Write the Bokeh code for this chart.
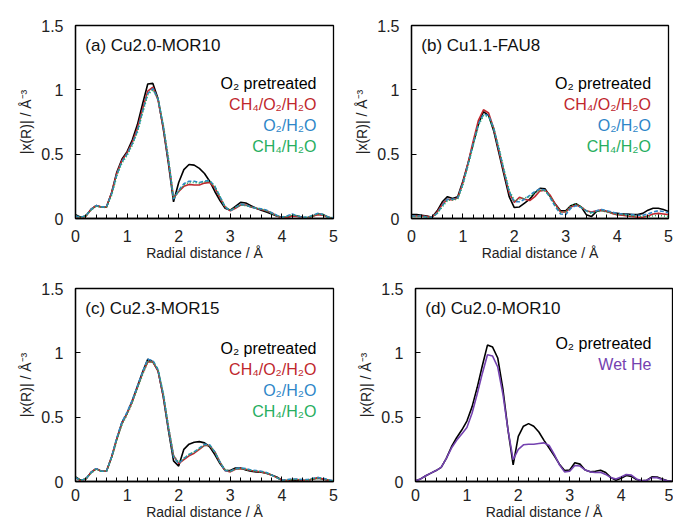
from bokeh.plotting import figure
from bokeh.layouts import column, row
from bokeh.models import Range1d, SingleIntervalTicker, NumeralTickFormatter, Label
from bokeh.embed import file_html
from bokeh.resources import INLINE

# Radial distance grid (Å)
R = [i / 10 for i in range(51)]

# (a) Cu2.0-MOR10
a_o2 = [0.03, 0.01, 0.02, 0.07, 0.10, 0.09, 0.09, 0.20, 0.36, 0.46,
        0.52, 0.61, 0.73, 0.89, 1.045, 1.05, 0.93, 0.70, 0.43, 0.13,
        0.28, 0.38, 0.42, 0.415, 0.39, 0.35, 0.29, 0.21, 0.14, 0.08,
        0.065, 0.095, 0.125, 0.12, 0.10, 0.08, 0.065, 0.05, 0.035, 0.02,
        0.01, 0.01, 0.02, 0.02, 0.01, 0.005, 0.02, 0.035, 0.03, 0.01, 0.0]
a_ch4o2h2o = [0.02, 0.0, 0.02, 0.07, 0.10, 0.09, 0.09, 0.20, 0.35, 0.45,
              0.51, 0.59, 0.70, 0.85, 0.99, 1.02, 0.92, 0.71, 0.45, 0.16,
              0.21, 0.25, 0.265, 0.26, 0.26, 0.275, 0.28, 0.24, 0.16, 0.09,
              0.06, 0.08, 0.105, 0.105, 0.09, 0.08, 0.07, 0.06, 0.045, 0.02,
              0.005, 0.01, 0.02, 0.015, 0.005, 0.005, 0.02, 0.03, 0.025, 0.01, 0.0]
a_o2h2o = [0.02, 0.01, 0.02, 0.07, 0.10, 0.09, 0.09, 0.19, 0.34, 0.44,
           0.50, 0.58, 0.68, 0.83, 0.97, 1.01, 0.93, 0.72, 0.46, 0.15,
           0.22, 0.27, 0.29, 0.29, 0.28, 0.29, 0.295, 0.25, 0.17, 0.09,
           0.06, 0.085, 0.11, 0.105, 0.09, 0.08, 0.075, 0.065, 0.045, 0.025,
           0.01, 0.02, 0.035, 0.02, 0.01, 0.01, 0.025, 0.04, 0.03, 0.01, 0.005]
a_ch4h2o = [0.02, 0.005, 0.02, 0.065, 0.095, 0.09, 0.085, 0.18, 0.33, 0.43,
            0.49, 0.57, 0.67, 0.82, 0.96, 1.00, 0.93, 0.73, 0.47, 0.16,
            0.21, 0.26, 0.28, 0.28, 0.275, 0.285, 0.29, 0.25, 0.17, 0.09,
            0.065, 0.085, 0.105, 0.10, 0.09, 0.08, 0.075, 0.06, 0.04, 0.02,
            0.01, 0.015, 0.03, 0.02, 0.01, 0.01, 0.02, 0.035, 0.03, 0.01, 0.005]

# (b) Cu1.1-FAU8
b_o2 = [0.03, 0.03, 0.025, 0.02, 0.01, 0.06, 0.13, 0.17, 0.155, 0.17,
        0.29, 0.43, 0.58, 0.73, 0.83, 0.80, 0.68, 0.51, 0.34, 0.17,
        0.085, 0.09, 0.12, 0.15, 0.20, 0.235, 0.23, 0.17, 0.11, 0.06,
        0.06, 0.10, 0.115, 0.09, 0.03, 0.015, 0.055, 0.065, 0.055, 0.045,
        0.04, 0.035, 0.035, 0.03, 0.03, 0.04, 0.065, 0.08, 0.08, 0.07, 0.055]
b_ch4o2h2o = [0.02, 0.02, 0.02, 0.015, 0.01, 0.05, 0.11, 0.15, 0.145, 0.16,
              0.28, 0.43, 0.60, 0.76, 0.845, 0.82, 0.70, 0.53, 0.36, 0.20,
              0.125, 0.165, 0.15, 0.14, 0.17, 0.215, 0.22, 0.18, 0.11, 0.05,
              0.05, 0.09, 0.105, 0.09, 0.06, 0.05, 0.06, 0.065, 0.055, 0.04,
              0.03, 0.025, 0.02, 0.015, 0.01, 0.01, 0.02, 0.035, 0.04, 0.035, 0.03]
b_o2h2o = [0.02, 0.02, 0.02, 0.01, 0.01, 0.04, 0.10, 0.15, 0.15, 0.16,
           0.27, 0.42, 0.58, 0.73, 0.81, 0.80, 0.70, 0.54, 0.37, 0.21,
           0.13, 0.13, 0.15, 0.18, 0.21, 0.23, 0.22, 0.16, 0.09, 0.035,
           0.03, 0.08, 0.10, 0.085, 0.06, 0.045, 0.06, 0.07, 0.06, 0.05,
           0.04, 0.035, 0.03, 0.03, 0.025, 0.025, 0.035, 0.05, 0.06, 0.055, 0.045]
b_ch4h2o = [0.015, 0.015, 0.015, 0.01, 0.01, 0.04, 0.09, 0.14, 0.145, 0.15,
            0.26, 0.41, 0.57, 0.72, 0.80, 0.79, 0.70, 0.55, 0.38, 0.22,
            0.14, 0.15, 0.16, 0.17, 0.20, 0.22, 0.215, 0.17, 0.10, 0.05,
            0.05, 0.10, 0.115, 0.09, 0.06, 0.04, 0.05, 0.06, 0.05, 0.04,
            0.03, 0.03, 0.025, 0.02, 0.015, 0.015, 0.015, 0.02, 0.025, 0.02, 0.015]

# (c) Cu2.3-MOR15
c_o2 = [0.035, 0.01, 0.02, 0.07, 0.10, 0.08, 0.08, 0.19, 0.33, 0.46,
        0.53, 0.63, 0.74, 0.85, 0.95, 0.93, 0.86, 0.66, 0.40, 0.16,
        0.12, 0.25, 0.29, 0.305, 0.31, 0.30, 0.27, 0.21, 0.14, 0.085,
        0.085, 0.105, 0.105, 0.09, 0.08, 0.075, 0.072, 0.065, 0.05, 0.035,
        0.01, 0.005, 0.01, 0.01, 0.008, 0.01, 0.02, 0.025, 0.02, 0.01, 0.0]
c_ch4o2h2o = [0.03, 0.005, 0.02, 0.07, 0.10, 0.08, 0.08, 0.19, 0.33, 0.45,
              0.53, 0.62, 0.73, 0.84, 0.93, 0.93, 0.86, 0.67, 0.42, 0.20,
              0.14, 0.17, 0.20, 0.22, 0.25, 0.28, 0.28, 0.23, 0.15, 0.085,
              0.075, 0.095, 0.10, 0.095, 0.085, 0.08, 0.075, 0.065, 0.05, 0.03,
              0.01, 0.01, 0.015, 0.015, 0.01, 0.01, 0.02, 0.03, 0.02, 0.01, 0.005]
c_o2h2o = [0.03, 0.01, 0.02, 0.07, 0.10, 0.08, 0.08, 0.19, 0.34, 0.46,
           0.54, 0.63, 0.74, 0.85, 0.95, 0.94, 0.87, 0.68, 0.42, 0.19,
           0.14, 0.18, 0.21, 0.23, 0.26, 0.29, 0.285, 0.23, 0.15, 0.085,
           0.08, 0.10, 0.105, 0.10, 0.09, 0.085, 0.08, 0.07, 0.05, 0.03,
           0.01, 0.015, 0.02, 0.02, 0.015, 0.015, 0.025, 0.03, 0.025, 0.015, 0.005]
c_ch4h2o = [0.03, 0.01, 0.02, 0.065, 0.095, 0.08, 0.08, 0.18, 0.32, 0.44,
            0.52, 0.61, 0.72, 0.83, 0.93, 0.93, 0.87, 0.69, 0.43, 0.20,
            0.15, 0.18, 0.21, 0.23, 0.255, 0.28, 0.28, 0.23, 0.15, 0.09,
            0.08, 0.095, 0.10, 0.095, 0.085, 0.08, 0.075, 0.065, 0.05, 0.03,
            0.01, 0.01, 0.015, 0.015, 0.01, 0.01, 0.02, 0.025, 0.02, 0.01, 0.005]

# (d) Cu2.0-MOR10
d_o2 = [0.005, 0.02, 0.045, 0.065, 0.085, 0.11, 0.18, 0.27, 0.34, 0.40,
        0.47, 0.58, 0.73, 0.90, 1.06, 1.045, 0.96, 0.72, 0.40, 0.13,
        0.35, 0.43, 0.45, 0.43, 0.385, 0.32, 0.26, 0.20, 0.135, 0.085,
        0.09, 0.145, 0.135, 0.09, 0.075, 0.08, 0.088, 0.07, 0.03, 0.01,
        0.025, 0.047, 0.04, 0.015, 0.005, 0.01, 0.036, 0.035, 0.02, 0.005, 0.0]
d_wethe = [0.005, 0.02, 0.045, 0.065, 0.085, 0.11, 0.18, 0.26, 0.32, 0.37,
           0.42, 0.53, 0.68, 0.84, 0.985, 0.975, 0.89, 0.68, 0.40, 0.17,
           0.25, 0.285, 0.29, 0.29, 0.295, 0.30, 0.28, 0.21, 0.13, 0.075,
           0.08, 0.124, 0.12, 0.09, 0.075, 0.07, 0.072, 0.055, 0.03, 0.02,
           0.035, 0.055, 0.05, 0.02, 0.005, 0.01, 0.03, 0.03, 0.015, 0.005, 0.0]

titles = ["(a) Cu2.0-MOR10", "(b) Cu1.1-FAU8", "(c) Cu2.3-MOR15", "(d) Cu2.0-MOR10"]
labels4 = ["O\u2082 pretreated", "CH\u2084/O\u2082/H\u2082O", "O\u2082/H\u2082O", "CH\u2084/H\u2082O"]
labels2 = ["O\u2082 pretreated", "Wet He"]

BLACK = "#000000"
RED = "#C0272D"
BLUE = "#2E86C8"
GREEN = "#27AE60"
PURPLE = "#7442B0"

styles4 = [(BLACK, "solid"), (RED, "solid"), (BLUE, "4 2"), (GREEN, "1 2")]
styles2 = [(BLACK, "solid"), (PURPLE, "solid")]

FONT = "Liberation Sans"


def make_panel(width, height, bl, br, bt, bb, title, series, styles, labels,
               leg_x, leg_y0, x_standoff, xlab_standoff):
    p = figure(width=width, height=height, x_range=Range1d(0, 5), y_range=Range1d(0, 1.5),
               output_backend="svg", toolbar_location=None,
               min_border_left=bl, min_border_right=br, min_border_top=bt, min_border_bottom=bb)
    p.xgrid.visible = False
    p.ygrid.visible = False
    p.outline_line_color = "black"
    p.outline_line_width = 1.3
    p.outline_line_alpha = 1.0
    p.background_fill_color = "white"
    p.border_fill_color = "white"

    xa = p.xaxis[0]
    xa.ticker = SingleIntervalTicker(interval=1, num_minor_ticks=5)
    ya = p.yaxis[0]
    ya.ticker = SingleIntervalTicker(interval=0.5, num_minor_ticks=0)
    ya.formatter = NumeralTickFormatter(format="0.[0]")
    for ax in (xa, ya):
        ax.axis_line_color = "black"
        ax.axis_line_width = 1.3
        ax.major_tick_in = 5
        ax.major_tick_out = 0
        ax.minor_tick_in = 4
        ax.minor_tick_out = 0
        ax.major_tick_line_color = "black"
        ax.minor_tick_line_color = "black"
        ax.major_label_text_font = FONT
        ax.major_label_text_font_size = "16px"
        ax.major_label_text_color = "#222222"
        ax.axis_label_text_font = FONT
        ax.axis_label_text_font_size = "14px"
        ax.axis_label_text_font_style = "normal"
        ax.axis_label_text_color = "#222222"
    xa.axis_label = "Radial distance / \u00c5"
    xa.major_label_standoff = x_standoff
    xa.axis_label_standoff = xlab_standoff
    ya.axis_label = "|x(R)| / \u00c5\u207b\u00b3"
    ya.major_label_standoff = 12
    ya.axis_label_standoff = 4

    for ys, (col, dash) in zip(series, styles):
        p.line(R, ys, line_color=col, line_width=1.6, line_dash=dash)

    p.add_layout(Label(x=0.19, y=1.345, text=title, text_font=FONT, text_font_size="17px",
                       text_color="#111111", text_baseline="middle", text_align="left"))
    for i, (lab, (col, _)) in enumerate(zip(labels, styles)):
        p.add_layout(Label(x=leg_x, y=leg_y0 - 0.163 * i, text=lab, text_font=FONT,
                           text_font_size="16px", text_color=col,
                           text_baseline="middle", text_align="right"))
    return p


pa = make_panel(340, 263, 75, 7, 25, 45, titles[0],
                [a_o2, a_ch4o2h2o, a_o2h2o, a_ch4h2o], styles4, labels4, 4.67, 1.05, 11, 0)
pb = make_panel(333, 263, 71, 5, 25, 45, titles[1],
                [b_o2, b_ch4o2h2o, b_o2h2o, b_ch4h2o], styles4, labels4, 4.66, 1.05, 11, 0)
pc = make_panel(340, 259, 75, 7, 25, 41, titles[2],
                [c_o2, c_ch4o2h2o, c_o2h2o, c_ch4h2o], styles4, labels4, 4.67, 1.035, 7, 0)
pd = make_panel(333, 259, 75, 1, 25, 41, titles[3],
                [d_o2, d_wethe], styles2, labels2, 4.59, 1.075, 7, 0)

layout = column(row(pa, pb), row(pc, pd))

open("out.html", "w").write(file_html(layout, INLINE))
